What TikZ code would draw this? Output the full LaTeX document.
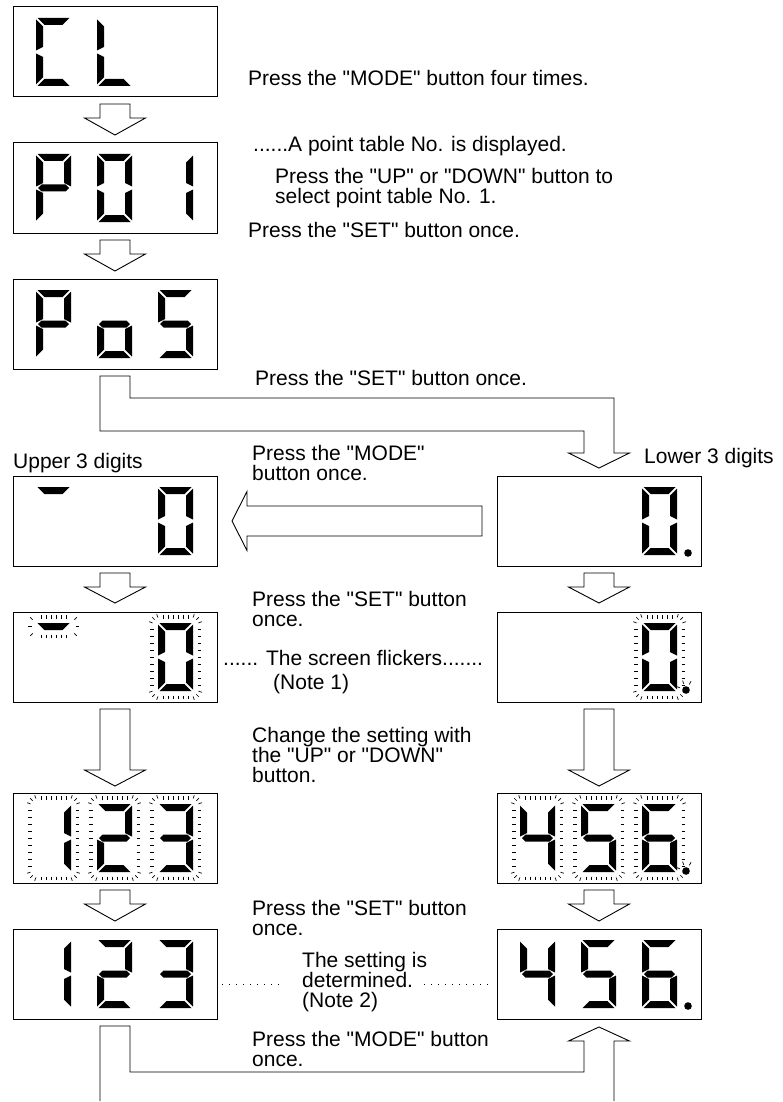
\documentclass[tikz,border=0pt]{standalone}
\usepackage{fontspec}
\setmainfont{Liberation Sans}
\usetikzlibrary{calc}

\newcommand\dq{\textquotedbl}

\newcommand\digsega{\fill (1.5,0) -- (33.5,0) -- (26.5,7) -- (8.5,7) -- cycle;}
\newcommand\digsegb{\fill (35,1.5) -- (35,32.5) -- (28,29) -- (28,8.5) -- cycle;}
\newcommand\digsegc{\fill (35,35.5) -- (35,66.5) -- (28,59.5) -- (28,39) -- cycle;}
\newcommand\digsegd{\fill (1.5,68) -- (33.5,68) -- (26.5,61) -- (8.5,61) -- cycle;}
\newcommand\digsege{\fill (0,35.5) -- (0,66.5) -- (7,59.5) -- (7,39) -- cycle;}
\newcommand\digsegf{\fill (0,1.5) -- (0,32.5) -- (7,29) -- (7,8.5) -- cycle;}
\newcommand\digsegg{\fill (2,34) -- (5.5,30.5) -- (29.5,30.5) -- (33,34) -- (29.5,37.5) -- (5.5,37.5) -- cycle;}
\newcommand\digsegp{\fill (46,66) circle[radius=3.8pt];}
\newcommand\digsegq{\fill (44,67) circle[radius=3.8pt];
  \foreach \a in {200,250,300}{\draw[flick] (44,67) ++(\a:6.5) -- ++(\a:3.5);}}

\newcommand\sevenseg[3]{%
  \begin{scope}[shift={($(#1.north west)+({23+61*#2},11)$)}]
    \foreach \s in {#3}{\csname digseg\s\endcsname}
  \end{scope}}

\newcommand\flickring[2]{%
  \begin{scope}[shift={($(#1.north west)+({23+61*#2},11)$)}]
    \foreach \u in {5,10,...,30}{\draw[flick] (\u,-8) -- (\u,-4.5); \draw[flick] (\u,72.5) -- (\u,76);}
    \foreach \v in {6,13,...,62}{\draw[flick] (-8,\v) -- (-4.5,\v); \draw[flick] (39.5,\v) -- (43,\v);}
    \foreach \cx/\cy/\a in {3/3/200,3/3/225,3/3/250,32/3/290,32/3/315,32/3/340,
                            3/65/110,3/65/135,3/65/160,32/65/20,32/65/45,32/65/70}
      {\draw[flick] (\cx,\cy) ++(\a:9) -- ++(\a:3.5);}
  \end{scope}}

\newcommand\flickbar[2]{%
  \begin{scope}[shift={($(#1.north west)+({23+61*#2},11)$)}]
    \foreach \u in {5,10,...,30}{\draw[flick] (\u,-8) -- (\u,-4.5); \draw[flick] (\u,11.5) -- (\u,15);}
    \foreach \cx/\cy/\a in {3/3/225,32/3/315,3/4/135,32/4/45}{\draw[flick] (\cx,\cy) ++(\a:9) -- ++(\a:3.5);}
    \draw[flick] (-8,3.5) -- (-4.5,3.5); \draw[flick] (39.5,3.5) -- (43,3.5);
  \end{scope}}

\newcommand\blockdown[3]{%
  \draw[hollow] ($(#1.south)+(-15,7)$) -- ++(0,#2) -- ++(-15.5,0) -- ++(30.5,#3)
    -- ++(30.5,-#3) -- ++(-15.5,0) -- ++(0,-#2) -- cycle;}

\tikzset{
  disp/.style={draw, line width=1pt, minimum width=204pt, minimum height=90pt, inner sep=0pt, outer sep=0pt},
  hollow/.style={draw, line width=0.9pt, fill=white},
  flick/.style={line width=0.7pt},
  note/.style={anchor=west, align=left, inner sep=0pt, font=\fontsize{21}{20}\selectfont},
  dotline/.style={line width=1.3pt, dash pattern=on 1.3pt off 5.7pt}
}

\begin{document}
\begin{tikzpicture}[x=1pt, y=-1pt]
  \useasboundingbox (0,0) rectangle (782,1102);

  \node[disp] (cl)  at (115,52) {};
  \node[disp] (pzo) at (115,188) {};
  \node[disp] (pos) at (115,324) {};
  \node[disp] (up0) at (115,521) {};
  \node[disp] (up1) at (115,657) {};
  \node[disp] (up2) at (115,838) {};
  \node[disp] (up3) at (115,974) {};
  \node[disp] (lo0) at (599,521) {};
  \node[disp] (lo1) at (599,657) {};
  \node[disp] (lo2) at (599,838) {};
  \node[disp] (lo3) at (599,974) {};

  \sevenseg{cl}{0}{a,f,e,d} \sevenseg{cl}{1}{f,e,d}
  \sevenseg{pzo}{0}{a,b,f,g,e} \sevenseg{pzo}{1}{a,b,c,d,e,f} \sevenseg{pzo}{2}{b,c}
  \sevenseg{pos}{0}{a,b,f,g,e} \sevenseg{pos}{1}{g,c,d,e} \sevenseg{pos}{2}{a,f,g,c,d}
  \sevenseg{up0}{0}{a} \sevenseg{up0}{2}{a,b,c,d,e,f}
  \sevenseg{lo0}{2}{a,b,c,d,e,f,p}
  \sevenseg{up1}{0}{a} \flickbar{up1}{0}
  \sevenseg{up1}{2}{a,b,c,d,e,f} \flickring{up1}{2}
  \sevenseg{lo1}{2}{a,b,c,d,e,f,q} \flickring{lo1}{2}
  \foreach \k in {0,1,2}{\flickring{up2}{\k} \flickring{lo2}{\k}}
  \sevenseg{up2}{0}{b,c} \sevenseg{up2}{1}{a,b,g,e,d} \sevenseg{up2}{2}{a,b,g,c,d}
  \sevenseg{lo2}{0}{f,g,b,c} \sevenseg{lo2}{1}{a,f,g,c,d} \sevenseg{lo2}{2}{a,f,g,e,c,d,q}
  \sevenseg{up3}{0}{b,c} \sevenseg{up3}{1}{a,b,g,e,d} \sevenseg{up3}{2}{a,b,g,c,d}
  \sevenseg{lo3}{0}{f,g,b,c} \sevenseg{lo3}{1}{a,f,g,c,d} \sevenseg{lo3}{2}{a,f,g,e,c,d,p}

  \blockdown{cl}{14}{17}
  \blockdown{pzo}{14}{17}
  \blockdown{up0}{14}{16}
  \blockdown{lo0}{14}{16}
  \blockdown{up1}{61}{16}
  \blockdown{lo1}{61}{16}
  \blockdown{up2}{14}{17}
  \blockdown{lo2}{14}{17}

  \draw[hollow] ($(pos.south)+(-15,7)$) |- ($(lo0.north)+(-15,-45)$) -- ++(0,22) -- ++(-15.5,0)
    -- ($(lo0.north)+(0,-8)$) -- ++(30.5,-15) -- ++(-15.5,0) |- ($(pos.south)+(15,29)$) -- ++(0,-22) -- cycle;
  \draw[hollow] ($(lo0.west)+(-15,-15)$) -- ($(up0.east)+(30,-15)$) -- ++(0,-14.5) -- ($(up0.east)+(15,0)$)
    -- ++(15,29.5) -- ++(0,-14.5) -- ($(lo0.west)+(-15,15)$) -- cycle;
  \draw[hollow, fill=none] ($(up3.south)+(-15,82)$) -- ++(0,-75) -- ++(30,0) |- ($(lo3.south)+(-15,53)$)
    -- ++(0,-31) -- ++(-15.5,0) -- ($(lo3.south)+(0,8)$) -- ++(30.5,14) -- ++(-15.5,0) -- ++(0,60);

  \node[note] (four) at (248,78) {Press the \dq MODE\dq{} button four times.};
  \node[note] (ptno) at (253,146) {......A point table No. is displayed.};
  \node[note, anchor=north west] (updn) at (275,168.5) {Press the \dq UP\dq{} or \dq DOWN\dq{} button to\\select point table No. 1.};
  \node[note] (set1) at (248,230) {Press the \dq SET\dq{} button once.};
  \node[note] (set2) at (255,378) {Press the \dq SET\dq{} button once.};
  \node[note] (upper) at (13,463) {Upper 3 digits};
  \node[note] (lower) at (644,458) {Lower 3 digits};
  \node[note, anchor=north west] (mode1) at (252,445) {Press the \dq MODE\dq\\button once.};
  \node[note, anchor=north west] (set3) at (252,591) {Press the \dq SET\dq{} button\\once.};
  \node[note] (flk) at (223,658) {...... The screen flickers.......};
  \node[note] (note1) at (273,684) {(Note 1)};
  \node[note, anchor=north west] (chg) at (252,727.5) {Change the setting with\\the \dq UP\dq{} or \dq DOWN\dq\\button.};
  \node[note, anchor=north west] (set4) at (252,900.5) {Press the \dq SET\dq{} button\\once.};
  \node[note, anchor=north west] (det) at (302,952.5) {The setting is\\determined.\\(Note 2)};
  \node[note, anchor=north west] (mode2) at (252,1031) {Press the \dq MODE\dq{} button\\once.};

  \draw[dotline] (up3.east |- det.west) ++(5,2) -- ($(det.west)+(-18,2)$);
  \draw[dotline] ($(det.west)+(122,2)$) -- ($(lo3.west |- det.west)+(-5,2)$);
\end{tikzpicture}
\end{document}
